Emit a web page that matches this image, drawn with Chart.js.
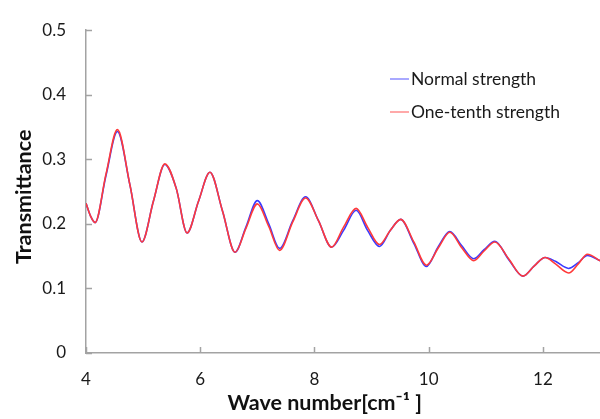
<!DOCTYPE html>
<html>
<head>
<meta charset="utf-8">
<script src="https://cdn.jsdelivr.net/npm/chart.js@4.4.1/dist/chart.umd.min.js"></script>
<style>
  html, body { margin: 0; padding: 0; background: #fff; }
  #wrap { width: 600px; height: 419px; position: relative; }
</style>
</head>
<body>
<div id="wrap"><canvas id="grafico"></canvas></div>
<script>
// wave number [cm-1]
const waveNumber = [4.0, 4.08, 4.16, 4.35, 4.55, 4.77, 4.98, 5.18, 5.38, 5.58, 5.77, 5.97, 6.17, 6.39, 6.61, 6.80, 7.00, 7.20, 7.39, 7.62, 7.845, 8.07, 8.30, 8.51, 8.73, 8.93, 9.14, 9.33, 9.51, 9.74, 9.96, 10.17, 10.37, 10.58, 10.79, 10.97, 11.16, 11.40, 11.65, 11.85, 12.04, 12.22, 12.45, 12.62, 12.78, 13.0];
const normalStrength = [0.232, 0.212, 0.202, 0.275, 0.343, 0.260, 0.172, 0.235, 0.292, 0.255, 0.186, 0.235, 0.280, 0.220, 0.156, 0.195, 0.236, 0.200, 0.162, 0.205, 0.242, 0.205, 0.164, 0.190, 0.221, 0.190, 0.165, 0.190, 0.207, 0.170, 0.134, 0.165, 0.188, 0.166, 0.146, 0.160, 0.173, 0.145, 0.119, 0.135, 0.148, 0.142, 0.131, 0.140, 0.151, 0.143];
const oneTenthStrength = [0.232, 0.212, 0.202, 0.277, 0.346, 0.260, 0.172, 0.235, 0.293, 0.255, 0.186, 0.235, 0.280, 0.220, 0.156, 0.193, 0.231, 0.196, 0.159, 0.203, 0.240, 0.205, 0.164, 0.195, 0.224, 0.195, 0.168, 0.190, 0.207, 0.172, 0.136, 0.163, 0.187, 0.163, 0.143, 0.158, 0.172, 0.146, 0.119, 0.135, 0.148, 0.138, 0.124, 0.138, 0.153, 0.143];
const seriesLabels = ["Normal strength", "One-tenth strength"];

const fuente = "Lato, 'Open Sans', sans-serif";
const gris = "#a3a3a3";

function puntos(xs, ys) {
    return xs.map((x, i) => ({ x: x, y: ys[i] }));
}

// marcas de escala hacia adentro y leyenda dentro del area
const extras = {
    id: "extras",
    afterDraw(chart) {
        const ctx = chart.ctx;
        const area = chart.chartArea;
        const xs = chart.scales.x;
        const ys = chart.scales.y;
        ctx.save();
        ctx.strokeStyle = gris;
        ctx.lineWidth = 1.5;
        ys.ticks.forEach(t => {
            const py = Math.round(ys.getPixelForValue(t.value)) + 0.5;
            ctx.beginPath();
            ctx.moveTo(area.left, py);
            ctx.lineTo(area.left + 6, py);
            ctx.stroke();
        });
        xs.ticks.forEach(t => {
            const px = Math.round(xs.getPixelForValue(t.value)) + 0.5;
            ctx.beginPath();
            ctx.moveTo(px, area.bottom);
            ctx.lineTo(px, area.bottom - 6);
            ctx.stroke();
        });

        const filas = [79, 112];
        ctx.font = "17.5px " + fuente;
        ctx.textBaseline = "middle";
        ctx.fillStyle = "#1a1a1a";
        chart.data.datasets.forEach((ds, i) => {
            ctx.strokeStyle = ds.legendColor;
            ctx.lineWidth = 1.5;
            ctx.beginPath();
            ctx.moveTo(390, filas[i]);
            ctx.lineTo(409, filas[i]);
            ctx.stroke();
            ctx.fillText(ds.label, 411, filas[i]);
        });
        ctx.restore();
    }
};

const ctx = document.getElementById("grafico").getContext("2d");
const chart = new Chart(ctx, {
    type: "line",
    data: {
        datasets: [{
            label: seriesLabels[0],
            data: puntos(waveNumber, normalStrength),
            borderColor: "#3a3aff",
            legendColor: "#8c8cff",
            borderWidth: 1.6,
            pointRadius: 0,
            cubicInterpolationMode: "monotone",
            fill: false,
            order: 1
        }, {
            label: seriesLabels[1],
            data: puntos(waveNumber, oneTenthStrength),
            borderColor: "#ff3a3a",
            legendColor: "#ff8c8c",
            borderWidth: 1.6,
            pointRadius: 0,
            cubicInterpolationMode: "monotone",
            fill: false,
            order: 0
        }]
    },
    options: {
        responsive: true,
        maintainAspectRatio: false,
        animation: false,
        layout: { padding: { top: 16, right: 0, bottom: 0, left: 0 } },
        plugins: {
            legend: { display: false },
            tooltip: { enabled: false }
        },
        scales: {
            x: {
                type: "linear",
                min: 4,
                max: 13,
                afterFit: s => { s.height = 66; },
                ticks: {
                    stepSize: 2,
                    includeBounds: false,
                    padding: 16,
                    maxRotation: 0,
                    color: "#1a1a1a",
                    font: { family: fuente, size: 17 }
                },
                grid: { display: false, drawTicks: false },
                border: { display: true, color: gris, width: 1.5 },
                title: {
                    display: true,
                    text: "Wave number[cm\u207B\u00B9 ]       ",
                    color: "#111",
                    font: { family: fuente, size: 21.5, weight: "bold" },
                    padding: { top: 0, bottom: 3 }
                }
            },
            y: {
                min: 0,
                max: 0.5,
                afterFit: s => { s.width = 86; },
                ticks: {
                    stepSize: 0.1,
                    padding: 20,
                    color: "#1a1a1a",
                    font: { family: fuente, size: 17 },
                    callback: v => Math.round(v * 10) / 10
                },
                grid: { display: false, drawTicks: false },
                border: { display: true, color: gris, width: 1.5 },
                title: {
                    display: true,
                    text: "Transmittance  ",
                    color: "#111",
                    font: { family: fuente, size: 21.5, weight: "bold" },
                    padding: { top: 11, bottom: 0 }
                }
            }
        }
    },
    plugins: [extras]
});
</script>
</body>
</html>
